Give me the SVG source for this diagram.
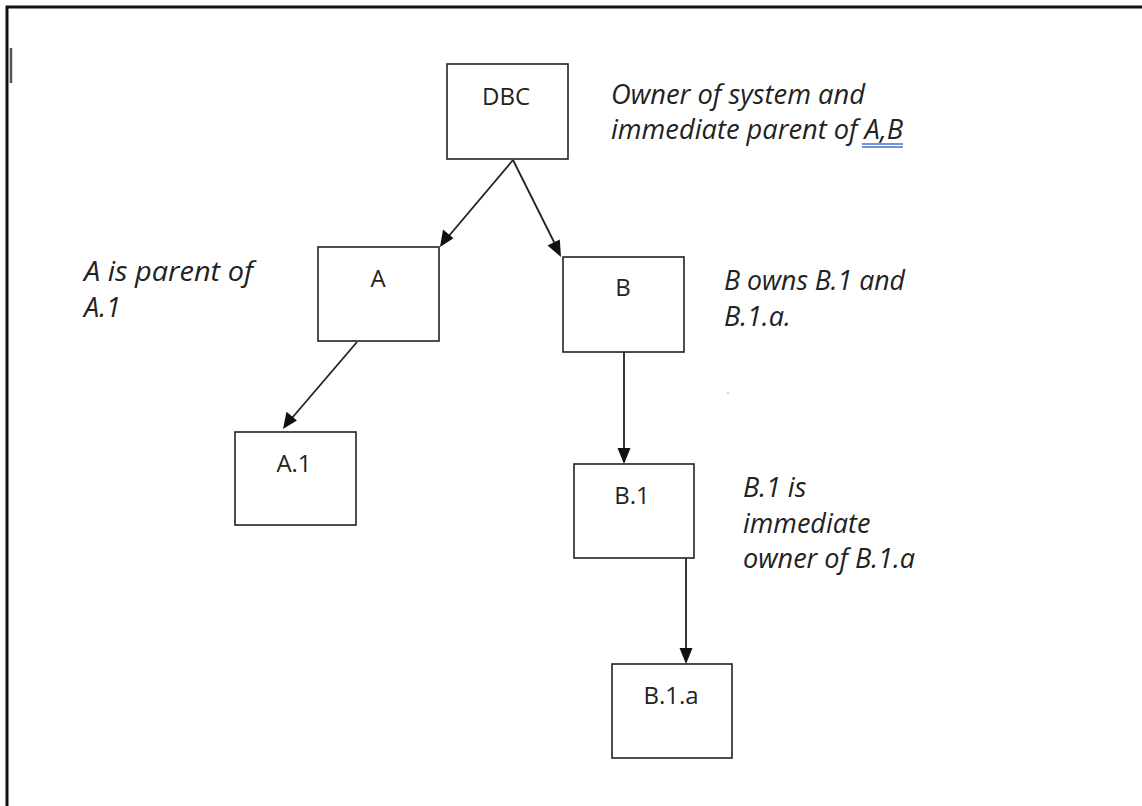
<svg xmlns="http://www.w3.org/2000/svg" width="1142" height="806" viewBox="0 0 1142 806">
<style>
.box{fill:#fff;stroke:#222;stroke-width:1.6}
.lbl{font-family:"Open Sans","Liberation Sans",sans-serif;font-size:24px;fill:#222;text-anchor:middle}
.note{font-family:"Open Sans","Liberation Sans",sans-serif;font-style:italic;font-size:27px;fill:#222}
.ln{stroke:#222;stroke-width:1.8;fill:none}
.head{fill:#111}
</style>
<rect width="1142" height="806" fill="#fff"/>
<g id="frame">
<path d="M7,806 V7 H1142" fill="none" stroke="#111" stroke-width="3"/>
<line x1="11" y1="48" x2="11" y2="83" stroke="#555" stroke-width="2.5"/>
</g>
<g id="connectors">
<line class="ln" x1="513" y1="160" x2="448" y2="237"/>
<path class="head" d="M440,247 l3,-17.5 l10.5,8.8 z"/>
<line class="ln" x1="513" y1="160" x2="555" y2="244"/>
<path class="head" d="M561,257 l-13.5,-11.5 l12.3,-6 z"/>
<line class="ln" x1="357" y1="342" x2="292" y2="418"/>
<path class="head" d="M283,429 l3.5,-17.3 l10.4,8.9 z"/>
<line class="ln" x1="624" y1="352" x2="624" y2="450"/>
<path class="head" d="M624,464 l-6.5,-16 l13,0 z"/>
<line class="ln" x1="686" y1="556" x2="686" y2="650"/>
<path class="head" d="M686,664 l-6.5,-16 l13,0 z"/>
</g>
<g id="node-dbc">
<rect class="box" x="447" y="64" width="121" height="95"/>
<text class="lbl" x="506" y="105">DBC</text>
</g>
<g id="note-dbc">
<text class="note" x="611" y="104" textLength="254" lengthAdjust="spacingAndGlyphs">Owner of system and</text>
<text class="note" x="611" y="139" textLength="292" lengthAdjust="spacingAndGlyphs">immediate parent of A,B</text>
<line x1="862" y1="144" x2="903" y2="144" stroke="#4472c4" stroke-width="1.3"/>
<line x1="862" y1="147" x2="903" y2="147" stroke="#4472c4" stroke-width="1.3"/>
</g>
<g id="node-a">
<rect class="box" x="318" y="247" width="121" height="94"/>
<text class="lbl" x="378" y="287">A</text>
</g>
<g id="note-a">
<text class="note" x="84" y="281" textLength="169" lengthAdjust="spacingAndGlyphs">A is parent of</text>
<text class="note" x="84" y="317">A.1</text>
</g>
<g id="node-b">
<rect class="box" x="563" y="257" width="121" height="95"/>
<text class="lbl" x="623" y="296">B</text>
</g>
<g id="note-b">
<text class="note" x="724" y="290" textLength="181" lengthAdjust="spacingAndGlyphs">B owns B.1 and</text>
<text class="note" x="724" y="326">B.1.a.</text>
<circle cx="728" cy="393" r="0.8" fill="#999"/>
</g>
<g id="node-a1">
<rect class="box" x="235" y="432" width="121" height="93"/>
<text class="lbl" x="294" y="472">A.1</text>
</g>
<g id="node-b1">
<rect class="box" x="574" y="464" width="120" height="94"/>
<text class="lbl" x="632" y="504">B.1</text>
</g>
<g id="note-b1">
<text class="note" x="743" y="497">B.1 is</text>
<text class="note" x="743" y="533">immediate</text>
<text class="note" x="743" y="568" textLength="172" lengthAdjust="spacingAndGlyphs">owner of B.1.a</text>
</g>
<g id="node-b1a">
<rect class="box" x="612" y="664" width="120" height="94"/>
<text class="lbl" x="671" y="704">B.1.a</text>
</g>
</svg>
